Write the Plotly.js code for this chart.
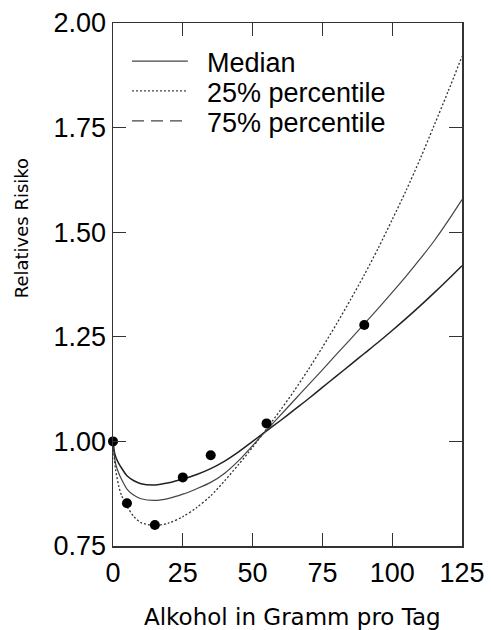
<!DOCTYPE html>
<html>
<head>
<meta charset="utf-8">
<script src="https://cdn.plot.ly/plotly-3.0.1.min.js"></script>
<style>html,body{margin:0;padding:0;background:#fff;}#chart{width:491px;height:630px;}</style>
</head>
<body>
<div id="chart"></div>
<script>
// Alcohol intake (g/day) at which the fitted curves are read
const alcohol = [0,0.5,1,2,3,5,7.5,10,15,20,25,30,35,40,45,50,55,60,65,70,75,80,85,90,95,100,105,110,115,120,125];
// Fitted relative risk curves
const median = [1.0,0.965,0.945,0.925,0.91,0.886,0.871,0.863,0.859,0.864,0.874,0.887,0.902,0.924,0.954,0.99,1.027,1.063,1.099,1.135,1.171,1.208,1.244,1.281,1.318,1.356,1.395,1.436,1.479,1.527,1.578];
const p25 = [1.0,0.955,0.93,0.895,0.872,0.845,0.82,0.806,0.799,0.805,0.82,0.842,0.87,0.906,0.945,0.986,1.03,1.075,1.122,1.172,1.225,1.28,1.338,1.398,1.462,1.53,1.60,1.675,1.755,1.836,1.92];
const p75 = [1.0,0.975,0.963,0.948,0.937,0.918,0.906,0.899,0.896,0.901,0.91,0.921,0.935,0.953,0.975,1.0,1.025,1.05,1.076,1.102,1.129,1.156,1.183,1.21,1.237,1.265,1.294,1.324,1.355,1.387,1.42];
// Observed points
const obsX = [0,5,15,25,35,55,90];
const obsY = [1.00,0.852,0.80,0.914,0.967,1.043,1.278];
// Labels
const legendLabels = ["Median","25% percentile","75% percentile"];
const xTicks = [0,25,50,75,100,125];
const yTicks = [0.75,1.00,1.25,1.50,1.75,2.00];
const xTitle = 'Alkohol in Gramm pro Tag';
const yTitle = 'Relatives Risiko';

const traces = [
  {x: alcohol, y: p75, mode: 'lines', name: legendLabels[2], line: {color: '#222', width: 1.5, shape: 'spline', smoothing: 0.8}, showlegend: false},
  {x: alcohol, y: median, mode: 'lines', name: legendLabels[0], line: {color: '#444', width: 1.2, shape: 'spline', smoothing: 0.8}, showlegend: false},
  {x: alcohol, y: p25, mode: 'lines', name: legendLabels[1], line: {color: '#333', width: 1.3, dash: '2px,2px', shape: 'spline', smoothing: 0.8}, showlegend: false},
  {x: obsX, y: obsY, mode: 'markers', marker: {color: '#000', size: 10}, cliponaxis: false, showlegend: false}
];

// legend drawn inside the plot (position in axis units)
const legY = [1.909, 1.838, 1.766];
const legDash = ['solid', '2px,2px', '12px,7px'];
const shapes = legendLabels.map((t, i) => ({
  type: 'line', xref: 'x', yref: 'y', x0: 6.8, x1: 26.8, y0: legY[i], y1: legY[i],
  line: {color: '#444', width: 1.2, dash: legDash[i]}
}));
const annotations = legendLabels.map((t, i) => ({
  text: t, xref: 'x', yref: 'y', x: 32.9, y: legY[i] - 0.005, xanchor: 'left', yanchor: 'middle',
  showarrow: false, font: {family: 'Liberation Sans, Arial, sans-serif', size: 27, color: '#000'}
}));
// axis titles placed as in the reference
annotations.push({
  text: xTitle, xref: 'paper', yref: 'paper', x: 0.513, y: -0.136, xanchor: 'center', yanchor: 'middle',
  showarrow: false, font: {family: 'DejaVu Sans, sans-serif', size: 23, color: '#000'}
});
annotations.push({
  text: yTitle, xref: 'paper', yref: 'paper', x: -0.2636, y: 0.6075, xanchor: 'center', yanchor: 'middle',
  textangle: -90, showarrow: false, font: {family: 'DejaVu Sans, sans-serif', size: 18, color: '#000'}
});

const axisCommon = {
  showgrid: false, zeroline: false, showline: true, linecolor: '#333', linewidth: 1.5,
  ticks: 'inside', ticklen: 13, tickwidth: 1.3, tickcolor: '#333', mirror: 'ticks',
  tickfont: {family: 'Liberation Sans, Arial, sans-serif', size: 27, color: '#000'}
};

const layout = {
  width: 491, height: 630,
  margin: {l: 113, r: 29, t: 23, b: 84, pad: 0},
  paper_bgcolor: '#fff', plot_bgcolor: '#fff',
  xaxis: Object.assign({}, axisCommon, {
    range: [0, 125], tickvals: xTicks, ticktext: xTicks.map(String), ticklabelstandoff: 2
  }),
  yaxis: Object.assign({}, axisCommon, {
    range: [0.75, 2.0], tickvals: yTicks, ticktext: yTicks.map(v => v.toFixed(2)), ticklabelstandoff: 0
  }),
  shapes: shapes,
  annotations: annotations,
  showlegend: false
};

Plotly.newPlot('chart', traces, layout, {displayModeBar: false, staticPlot: true});
</script>
</body>
</html>
